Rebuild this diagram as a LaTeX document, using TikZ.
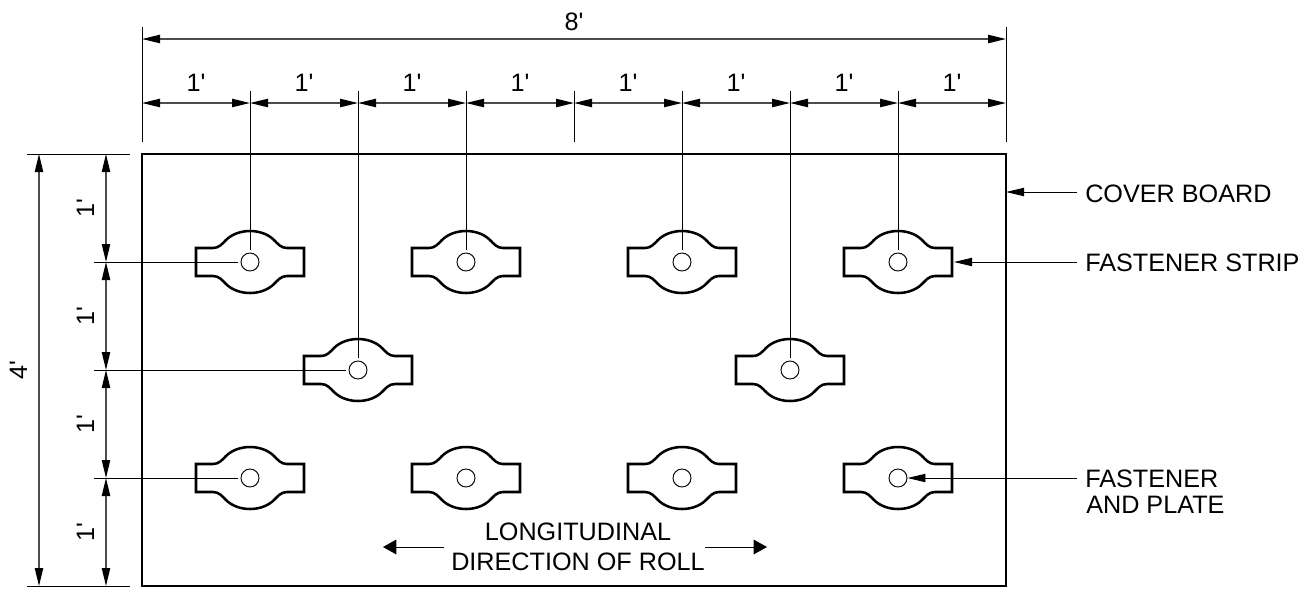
\documentclass[tikz,border=0pt]{standalone}
\usepackage{fontspec}
\newfontfamily\drawfont{Liberation Sans}
\usetikzlibrary{arrows.meta,calc}
\tikzset{
  px/.style={x=0.75pt,y=-0.75pt},
  dimtip/.tip={Triangle[length=13.5pt,width=6.2pt,color=black,fill=black]},
  rolltip/.tip={Triangle[length=10pt,width=11pt,color=black,fill=black]},
  dimline/.style={line width=1.1pt,draw=black!70,{dimtip}-{dimtip}},
  extline/.style={line width=0.7pt,draw=black},
  leadline/.style={line width=0.7pt,draw=black},
  leadarrow/.style={leadline,-{dimtip}},
  rollarrow/.style={leadline,-{rolltip}},
  boardbox/.style={draw=black,line width=1.5pt,inner sep=0pt,minimum width=648pt,minimum height=324pt},
  platecirc/.style={circle,draw=black,line width=0.7pt,inner sep=0pt,minimum size=13.5pt},
  striplabel/.style={font=\drawfont\fontsize{18.9pt}{19.5pt}\selectfont,inner sep=0pt,anchor=base},
  strip/.pic={
    \draw[line width=1.9pt,line join=miter] (-54,-14) -- (-37,-14)
      .. controls (-31,-14) and (-28,-18) .. (-24,-22)
      .. controls (-18,-28) and (-9,-31) .. (0,-31)
      .. controls (9,-31) and (18,-28) .. (24,-22)
      .. controls (28,-18) and (31,-14) .. (37,-14) -- (54,-14) -- (54,14) -- (37,14)
      .. controls (31,14) and (28,18) .. (24,22)
      .. controls (18,28) and (9,31) .. (0,31)
      .. controls (-9,31) and (-18,28) .. (-24,22)
      .. controls (-28,18) and (-31,14) .. (-37,14) -- (-54,14) -- cycle;
  }
}
\begin{document}
\begin{tikzpicture}[px]
\useasboundingbox (0,0) rectangle (1316,590);
\node[boardbox] (board) at (574,370) {};
% strips
\foreach \n/\x/\y in {a/250/262,b/466/262,c/682/262,d/898/262,e/358/370,f/790/370,g/250/478,h/466/478,i/682/478,j/898/478}{
  \pic at (\x,\y) {strip};
  \node[platecirc] (\n) at (\x,\y) {};
}
% horizontal dimension anchors
\coordinate (T0) at (142,27);
\coordinate (T0b) at (142,142);
\coordinate (T8) at (1006,27);
\coordinate (T8b) at (1006,142);
\coordinate (D0) at (142,39);
\coordinate (D8) at (1006,39);
\foreach \k/\x in {0/142,1/250,2/358,3/466,4/574,5/682,6/790,7/898,8/1006}{
  \coordinate (U\k) at (\x,103);
  \coordinate (V\k) at (\x,91);
}
\coordinate (W4) at (574,142);
\draw[extline] (T0) -- (T0b);
\draw[extline] (T8) -- (T8b);
\draw[extline] (V4) -- (W4);
\foreach \k/\n in {1/a,2/e,3/b,5/c,6/f,7/d}{
  \draw[extline,shorten >=2.25pt] (V\k) -- (\n.north);
}
\draw[dimline] (D0) -- (D8);
\foreach \a/\b in {0/1,1/2,2/3,3/4,4/5,5/6,6/7,7/8}{
  \draw[dimline] (U\a) -- (U\b);
}
\node[striplabel] (top) at (574,30) {8'};
\foreach \n/\x in {q1/196,q2/304,q3/412,q4/520,q5/628,q6/736,q7/844,q8/952}{
  \node[striplabel] (\n) at (\x,91) {1'};
}
% vertical dimension anchors
\coordinate (L0a) at (27,154);
\coordinate (L0b) at (130,154);
\coordinate (L4a) at (27,586);
\coordinate (L4b) at (130,586);
\draw[extline] (L0a) -- (L0b);
\draw[extline] (L4a) -- (L4b);
\foreach \k/\y in {0/154,1/262,2/370,3/478,4/586}{
  \coordinate (R\k) at (106,\y);
  \coordinate (S\k) at (94,\y);
}
\foreach \k/\n in {1/a,2/e,3/g}{
  \draw[extline,shorten >=2.25pt] (S\k) -- (\n.west);
}
\coordinate (B0) at (39,154);
\coordinate (B4) at (39,586);
\draw[dimline] (B0) -- (B4);
\foreach \a/\b in {0/1,1/2,2/3,3/4}{
  \draw[dimline] (R\a) -- (R\b);
}
\node[striplabel,rotate=90] (lft) at (27,370) {4'};
\foreach \n/\y in {r1/208,r2/316,r3/424,r4/532}{
  \node[striplabel,rotate=90] (\n) at (94,\y) {1'};
}
% callouts
\coordinate (c1) at (1077,192);
\coordinate (c1t) at (1006,192);
\coordinate (c2) at (1077,262);
\coordinate (c2t) at (954,262);
\coordinate (c3) at (1077,478);
\node[striplabel,anchor=base west] (cover) at (1085,202) {COVER BOARD};
\node[striplabel,anchor=base west] (fs) at (1085,271) {FASTENER STRIP};
\node[striplabel,anchor=base west] (fp1) at (1085,487) {FASTENER};
\node[striplabel,anchor=base west] (fp2) at (1086,513) {AND PLATE};
\draw[leadarrow] (c1) -- (c1t);
\draw[leadarrow] (c2) -- (c2t);
\draw[leadarrow] (c3) -- (j.east);
% direction
\node[striplabel] (long) at (578,540) {LONGITUDINAL};
\node[striplabel] (dir) at (578,570) {DIRECTION OF ROLL};
\coordinate (la) at (444,547);
\coordinate (lb) at (383,547);
\coordinate (ra) at (705,547);
\coordinate (rb) at (767,547);
\draw[rollarrow] (la) -- (lb);
\draw[rollarrow] (ra) -- (rb);
\end{tikzpicture}
\end{document}
